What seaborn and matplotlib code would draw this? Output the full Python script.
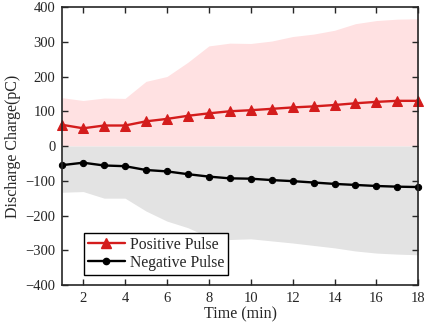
import numpy as np
import pandas as pd
import matplotlib
matplotlib.use("Agg")
import matplotlib.pyplot as plt
import seaborn as sns
from matplotlib.lines import Line2D

time_min = list(range(1, 19))
positive_mean = [61, 51, 59, 59, 71, 78, 87, 94, 100, 103, 107, 111, 114, 118, 123, 127, 130, 130]
positive_upper = [139, 131, 138, 137, 186, 200, 241, 288, 296, 295, 302, 315, 322, 333, 352, 361, 365, 366]
negative_mean = [-55, -48, -56, -58, -69, -73, -81, -88, -93, -94, -98, -101, -105, -109, -112, -115, -117, -118]
negative_lower = [-133, -131, -150, -150, -187, -216, -235, -262, -269, -267, -273, -279, -286, -293, -302, -308, -311, -313]

df = pd.DataFrame({
    "time": time_min * 2,
    "charge": positive_mean + negative_mean,
    "series": ["Positive Pulse"] * 18 + ["Negative Pulse"] * 18,
})

sns.set_style("ticks")
plt.rcParams["font.family"] = ["Liberation Serif", "DejaVu Serif"]

fig = plt.figure(figsize=(4.26, 3.33), dpi=100)
ax = fig.add_axes([0.146, 0.144, 0.836, 0.835])

red = "#d41c1c"
ax.fill_between(time_min, 0, positive_upper, color="#ffe1e2", lw=0, zorder=0)
ax.fill_between(time_min, negative_lower, 0, color="#e3e3e3", lw=0, zorder=0)

sns.lineplot(data=df, x="time", y="charge", hue="series", style="series",
             palette={"Positive Pulse": red, "Negative Pulse": "black"},
             markers={"Positive Pulse": "^", "Negative Pulse": "o"},
             dashes=False, lw=1.7, ax=ax, legend=False)
for line, ms in zip(ax.lines, [7, 4.5]):
    line.set_markersize(ms)
    line.set_markeredgecolor(line.get_color())
    line.set_clip_on(False)

ax.set_xlim(1, 18)
ax.set_ylim(-400, 400)
ax.set_xticks(range(2, 19, 2))
ax.set_yticks(range(-400, 401, 100))
ax.tick_params(direction="in", top=True, right=True, length=4, width=1,
               labelsize=10.5, colors="#262626", pad=5)
for sp in ax.spines.values():
    sp.set_linewidth(1.2)
    sp.set_color("#262626")
    sp.set_visible(True)
ax.set_xlabel("Time (min)", fontsize=11.5, labelpad=1)
ax.set_ylabel("Discharge Charge(pC)", fontsize=11.5, labelpad=3)

handles = [Line2D([], [], color=red, marker="^", ms=7, lw=1.7),
           Line2D([], [], color="black", marker="o", ms=4.5, lw=1.7)]
leg = ax.legend(handles, ["Positive Pulse", "Negative Pulse"], loc="lower left",
                bbox_to_anchor=(0.047, 0.02), fontsize=11.3, frameon=True, fancybox=False,
                edgecolor="black", framealpha=1, handlelength=2.4, handletextpad=0.3,
                borderpad=0.25, labelspacing=0.15, borderaxespad=0.3)
leg.get_frame().set_linewidth(1.0)

fig.savefig("out.png", dpi=100)
